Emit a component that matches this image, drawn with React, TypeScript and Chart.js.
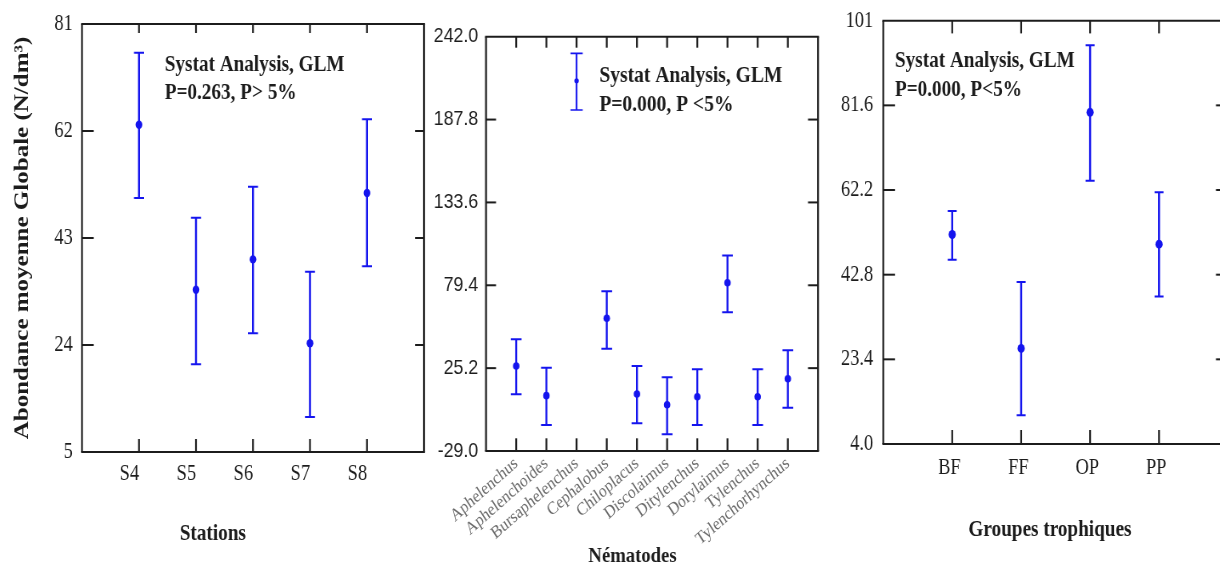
import React, { useEffect, useRef } from 'react';
import { Chart, registerables } from 'chart.js';

Chart.register(...registerables);

// ---------------- DATA ----------------
const stations = ['S4', 'S5', 'S6', 'S7', 'S8'];
const stationMean = [63.1, 33.8, 39.2, 24.3, 51.0];
const stationLow = [50.1, 20.6, 26.1, 11.2, 38.0];
const stationHigh = [75.9, 46.6, 52.1, 37.0, 64.1];
const stationTicks = [5, 24, 43, 62, 81];
const stationTickLabels = ['5', '24', '43', '62', '81'];

const nematodes = [
  'Aphelenchus', 'Aphelenchoides', 'Bursaphelenchus', 'Cephalobus', 'Chiloplacus',
  'Discolaimus', 'Ditylenchus', 'Dorylaimus', 'Tylenchus', 'Tylenchorhynchus',
];
const nemMean = [26.6, 7.2, null, 57.8, 8.3, 1.3, 6.5, 81.1, 6.5, 18.3];
const nemLow = [8.1, -12.0, null, 37.9, -10.9, -18.1, -12.0, 61.7, -12.0, -0.7];
const nemHigh = [44.1, 25.5, null, 75.5, 26.6, 19.2, 24.4, 98.8, 24.4, 36.9];
// legend key symbol drawn beside the annotation (at the Bursaphelenchus slot)
const nemKeyIndex = [2];
const nemKeyMean = [213.2];
const nemKeyLow = [194.1];
const nemKeyHigh = [231.1];
const nemTicks = [-29.0, 25.2, 79.4, 133.6, 187.8, 242.0];
const nemTickLabels = ['-29.0', '25.2', '79.4', '133.6', '187.8', '242.0'];

const groups = ['BF', 'FF', 'OP', 'PP'];
const groupMean = [52.0, 25.9, 80.0, 49.8];
const groupLow = [46.2, 10.6, 64.3, 37.8];
const groupHigh = [57.4, 41.1, 95.4, 61.7];
const groupTicks = [4.0, 23.4, 42.8, 62.2, 81.6, 101];
const groupTickLabels = ['4.0', '23.4', '42.8', '62.2', '81.6', '101'];

// ---------------- STYLE ----------------
const SERIF = '"Liberation Serif", "Times New Roman", serif';
const SANS = '"Liberation Sans", Arial, sans-serif';
const BLUE = '#1414ee';
const INK = '#1c1c1c';
const GRAY = '#6a6a6a';

type TextItem = {
  text: string; x: number; y: number; size: number;
  weight?: string; align?: CanvasTextAlign; color?: string; family?: string;
};

type PanelCfg = {
  left: number; scale: number; width: number; height: number;
  area: { left: number; right: number; top: number; bottom: number };
  cats: string[]; mean: (number | null)[]; low: (number | null)[]; high: (number | null)[];
  yTicks: number[]; yLabels: string[];
  yFont: any; yColor: string; yPad: number;
  xFont: any; xColor: string; xPad: number; xRotation: number; xLabelOffset: number;
  capR: number; capW: number; dotR: number; barW: number;
  key?: { idx: number[]; mean: number[]; low: number[]; high: number[]; capR: number; capW: number; dotR: number; barW: number };
  yTitle?: { text: string; size: number; pad: number };
  texts: TextItem[];
  tickLen: { top: number; bottom: number; left: number; right: number };
};

function makeFramePlugin(p: PanelCfg) {
  return {
    id: 'frameTicksTexts',
    afterDraw(chart: any) {
      const { ctx, chartArea: a, scales } = chart;
      const hw = 2;
      const vw = 2.2;
      ctx.save();
      ctx.strokeStyle = INK;
      ctx.lineCap = 'butt';
      const seg = (x1: number, y1: number, x2: number, y2: number, w: number) => {
        ctx.lineWidth = w;
        ctx.beginPath();
        ctx.moveTo(x1, y1);
        ctx.lineTo(x2, y2);
        ctx.stroke();
      };
      // frame
      seg(a.left - vw / 2, a.top, a.right + vw / 2, a.top, hw);
      seg(a.left - vw / 2, a.bottom, a.right + vw / 2, a.bottom, hw);
      seg(a.left, a.top, a.left, a.bottom, vw);
      seg(a.right, a.top, a.right, a.bottom, vw);
      // inner ticks on x
      const xs = scales.x;
      xs.ticks.forEach((t: any) => {
        const px = xs.getPixelForValue(t.value);
        seg(px, a.top, px, a.top + p.tickLen.top, vw);
        seg(px, a.bottom, px, a.bottom - p.tickLen.bottom, vw);
      });
      // inner ticks on y
      const ys = scales.y;
      ys.ticks.forEach((t: any) => {
        if (t.value <= ys.min + 1e-9 || t.value >= ys.max - 1e-9) return;
        const py = ys.getPixelForValue(t.value);
        seg(a.left, py, a.left + p.tickLen.left, py, hw);
        seg(a.right - p.tickLen.right, py, a.right, py, hw);
      });
      // texts
      p.texts.forEach((t) => {
        ctx.font = `${t.weight || 'bold'} ${t.size}px ${t.family || SERIF}`;
        ctx.fillStyle = t.color || INK;
        ctx.textAlign = t.align || 'left';
        ctx.textBaseline = 'alphabetic';
        ctx.fillText(t.text, t.x, t.y);
      });
      ctx.restore();
    },
  };
}

function errorSets(cats: number[], mean: (number | null)[], low: (number | null)[], high: (number | null)[], capR: number, capW: number, dotR: number, barW: number) {
  const whisker: any[] = [];
  const caps: any[] = [];
  const dots: any[] = [];
  cats.forEach((xv, i) => {
    const lo = low[i];
    const hi = high[i];
    const m = mean[i];
    if (lo != null && hi != null) {
      whisker.push({ x: xv, y: lo }, { x: xv, y: hi }, { x: xv, y: null });
      caps.push({ x: xv, y: lo }, { x: xv, y: hi });
    }
    if (m != null) dots.push({ x: xv, y: m });
  });
  return [
    {
      type: 'scatter', data: dots, pointStyle: 'circle', pointRadius: dotR, pointHoverRadius: dotR,
      pointBackgroundColor: BLUE, pointBorderWidth: 0, backgroundColor: BLUE, borderWidth: 0,
    },
    {
      type: 'scatter', data: caps, pointStyle: 'line', pointRadius: capR, pointHoverRadius: capR,
      pointBorderColor: BLUE, pointBorderWidth: capW, borderColor: BLUE, borderWidth: capW,
    },
    {
      type: 'line', data: whisker, borderColor: BLUE, borderWidth: barW, pointRadius: 0,
      pointHoverRadius: 0, spanGaps: false, showLine: true, fill: false, tension: 0,
    },
  ];
}

function buildConfig(p: PanelCfg): any {
  const n = p.cats.length;
  let datasets: any[] = errorSets(p.cats.map((_, i) => i + 1), p.mean, p.low, p.high, p.capR, p.capW, p.dotR, p.barW);
  if (p.key) {
    const k = p.key;
    datasets = datasets.concat(errorSets(k.idx.map((i) => i + 1), k.mean, k.low, k.high, k.capR, k.capW, k.dotR, k.barW));
  }
  return {
    type: 'scatter',
    data: { datasets },
    plugins: [makeFramePlugin(p)],
    options: {
      animation: false,
      responsive: false,
      devicePixelRatio: 1,
      events: [],
      layout: { padding: { left: 0, top: p.area.top, right: p.width - p.area.right, bottom: 0 } },
      plugins: { legend: { display: false }, tooltip: { enabled: false } },
      scales: {
        x: {
          type: 'linear', min: 0, max: n + 1, bounds: 'data',
          grid: { display: false, drawTicks: false },
          border: { display: false },
          afterBuildTicks: (s: any) => { s.ticks = p.cats.map((_, i) => ({ value: i + 1 })); },
          afterFit: (s: any) => { s.height = p.height - p.area.bottom; s.paddingLeft = 0; s.paddingRight = 0; },
          ticks: {
            autoSkip: false, minRotation: p.xRotation, maxRotation: p.xRotation,
            padding: p.xPad, color: p.xColor, font: p.xFont, labelOffset: p.xLabelOffset,
            callback: (v: any) => p.cats[Math.round(v) - 1] ?? '',
          },
        },
        y: {
          type: 'linear', min: p.yTicks[0], max: p.yTicks[p.yTicks.length - 1], bounds: 'data',
          grid: { display: false, drawTicks: false },
          border: { display: false },
          afterBuildTicks: (s: any) => { s.ticks = p.yTicks.map((v) => ({ value: v })); },
          afterFit: (s: any) => { s.width = p.area.left; s.paddingTop = 0; s.paddingBottom = 0; },
          ticks: {
            padding: p.yPad, color: p.yColor, font: p.yFont,
            callback: (_v: any, i: number) => p.yLabels[i],
          },
          title: p.yTitle
            ? {
                display: true, text: p.yTitle.text, color: INK,
                font: { family: SERIF, size: p.yTitle.size, weight: 'bold' },
                padding: { top: p.yTitle.pad, bottom: 0 },
              }
            : { display: false },
        },
      },
    },
  };
}

// ---------------- PANELS ----------------
const panelStations: PanelCfg = {
  left: 0, scale: 0.8, width: 540, height: 566,
  area: { left: 102.5, right: 530, top: 24, bottom: 452 },
  cats: stations, mean: stationMean, low: stationLow, high: stationHigh,
  yTicks: stationTicks, yLabels: stationTickLabels,
  yFont: { family: SERIF, size: 23 }, yColor: INK, yPad: 11.6,
  xFont: { family: SERIF, size: 23 }, xColor: INK, xPad: 8, xRotation: 0, xLabelOffset: -12,
  capR: 6.25, capW: 2, dotR: 4.2, barW: 2.5,
  yTitle: { text: 'Abondance moyenne Globale (N/dm³)', size: 25, pad: 13.75 },
  texts: [
    { text: 'Systat Analysis, GLM', x: 206, y: 70.5, size: 24 },
    { text: 'P=0.263, P> 5%', x: 206, y: 99.3, size: 24 },
    { text: 'Stations', x: 266, y: 539.5, size: 24, align: 'center' },
  ],
  tickLen: { top: 9, bottom: 13, left: 14.6, right: 11 },
};

const panelNematodes: PanelCfg = {
  left: 426, scale: 0.85, width: 470, height: 566,
  area: { left: 70.6, right: 465.9, top: 36.7, bottom: 451 },
  cats: nematodes, mean: nemMean, low: nemLow, high: nemHigh,
  yTicks: nemTicks, yLabels: nemTickLabels,
  yFont: { family: SANS, size: 21 }, yColor: INK, yPad: 9.1,
  xFont: { family: SERIF, size: 18 }, xColor: GRAY, xPad: 2, xRotation: 37, xLabelOffset: 0,
  capR: 6.3, capW: 2, dotR: 3.8, barW: 2.3,
  key: { idx: nemKeyIndex, mean: nemKeyMean, low: nemKeyLow, high: nemKeyHigh, capR: 7.2, capW: 1.6, dotR: 2.6, barW: 2 },
  texts: [
    { text: 'Systat Analysis, GLM', x: 203.9, y: 81.7, size: 23 },
    { text: 'P=0.000, P <5%', x: 203.9, y: 110.7, size: 23 },
    { text: 'Nématodes', x: 243, y: 561.5, size: 22, align: 'center' },
  ],
  tickLen: { top: 11, bottom: 12.7, left: 11.8, right: 11.8 },
};

const panelGroups: PanelCfg = {
  left: 826, scale: 0.8, width: 520, height: 566,
  area: { left: 71.6, right: 502.5, top: 20.7, bottom: 444 },
  cats: groups, mean: groupMean, low: groupLow, high: groupHigh,
  yTicks: groupTicks, yLabels: groupTickLabels,
  yFont: { family: SERIF, size: 23 }, yColor: INK, yPad: 12.5,
  xFont: { family: SERIF, size: 23 }, xColor: INK, xPad: 10.5, xRotation: 0, xLabelOffset: -3.5,
  capR: 5.6, capW: 2, dotR: 4.5, barW: 2.5,
  texts: [
    { text: 'Systat Analysis, GLM', x: 86.25, y: 66.7, size: 24 },
    { text: 'P=0.000, P<5%', x: 86.25, y: 96, size: 24 },
    { text: 'Groupes trophiques', x: 280, y: 536, size: 24, align: 'center' },
  ],
  tickLen: { top: 12.7, bottom: 14, left: 14.6, right: 15 },
};

function Panel({ cfg }: { cfg: PanelCfg }) {
  const ref = useRef<HTMLCanvasElement | null>(null);
  useEffect(() => {
    if (!ref.current) return;
    const chart = new Chart(ref.current, buildConfig(cfg));
    return () => chart.destroy();
  }, [cfg]);
  return (
    <div
      style={{
        position: 'absolute', left: cfg.left, top: 0, width: cfg.width, height: cfg.height,
        transform: `scaleX(${cfg.scale})`, transformOrigin: '0 0',
      }}
    >
      <canvas
        ref={ref}
        width={cfg.width}
        height={cfg.height}
        style={{ width: cfg.width, height: cfg.height, display: 'block' }}
      />
    </div>
  );
}

export default function App() {
  return (
    <div
      style={{
        position: 'absolute', left: 0, top: 0, width: 1220, height: 566,
        overflow: 'hidden', background: '#ffffff',
      }}
    >
      <Panel cfg={panelStations} />
      <Panel cfg={panelNematodes} />
      <Panel cfg={panelGroups} />
    </div>
  );
}
